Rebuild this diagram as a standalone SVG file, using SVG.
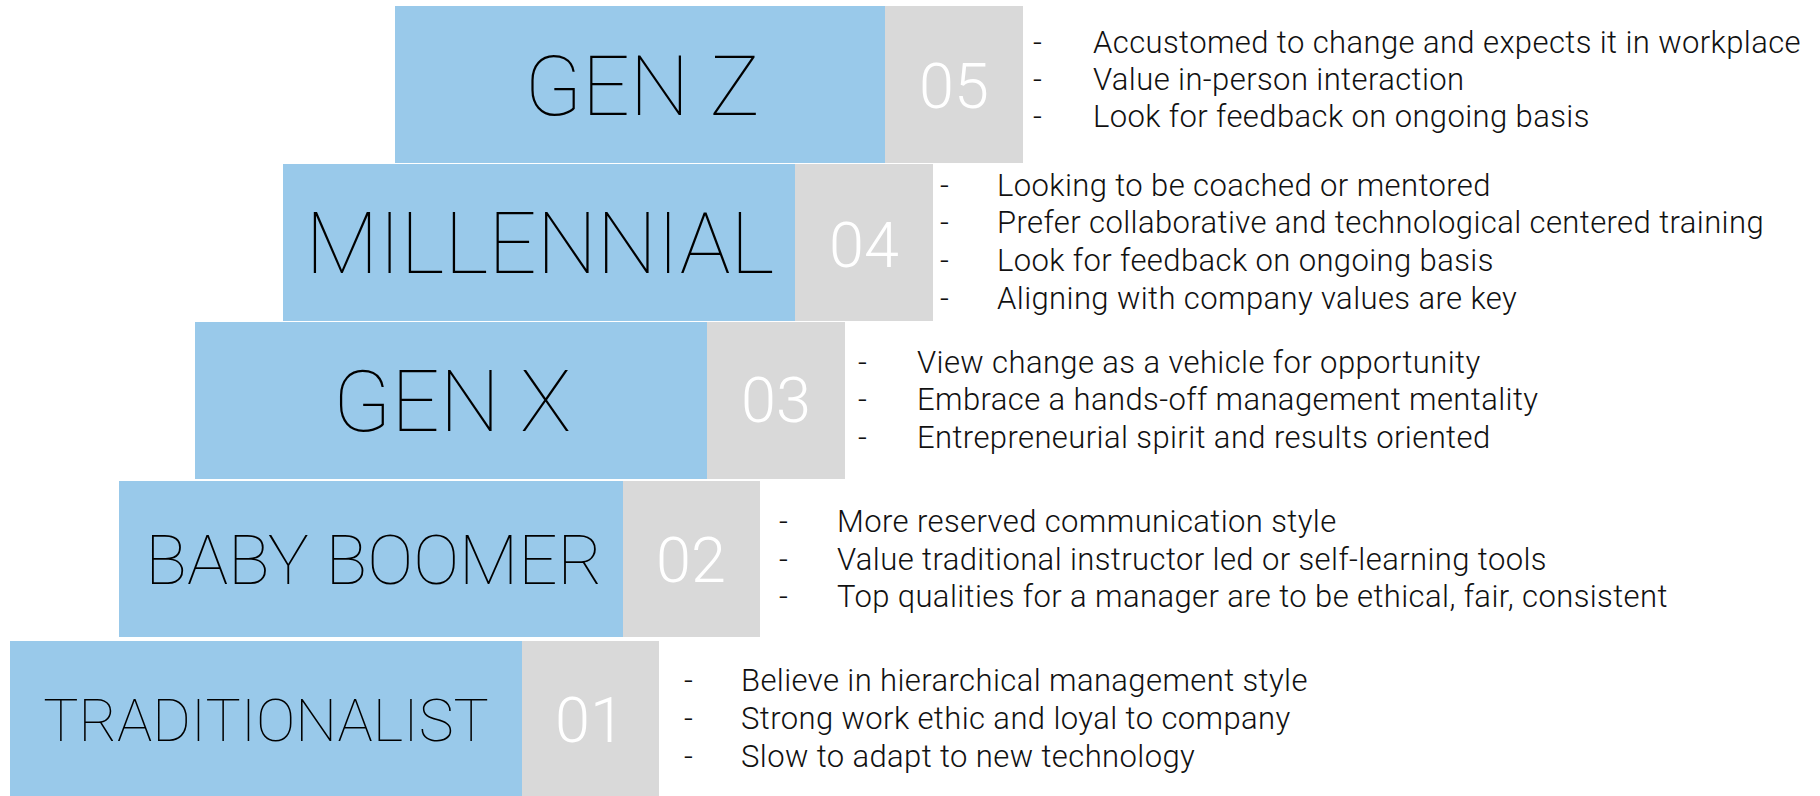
<svg xmlns="http://www.w3.org/2000/svg" width="1820" height="796" viewBox="0 0 1820 796">
  <style>
    .band { fill: #99c9ea; }
    .num-box { fill: #d9d9d9; }
    .label { font-family: Roboto, "Liberation Sans", sans-serif; font-weight: 100; fill: #000; text-anchor: middle; }
    .num { font-family: Roboto, "Liberation Sans", sans-serif; font-weight: 300; fill: #fff; font-size: 63px; text-anchor: middle; }
    .item { font-family: Roboto, "Liberation Sans", sans-serif; font-weight: 300; fill: #111; font-size: 31px; letter-spacing: 0.4px; }
  </style>
  <rect width="1820" height="796" fill="#fff"/>

  <!-- Generation 05 -->
  <g id="gen-z">
    <rect class="band" x="395" y="6" width="490" height="157"/>
    <rect class="num-box" x="885" y="6" width="138" height="157"/>
    <text class="label" x="642" y="115" font-size="84">GEN Z</text>
    <text class="num" x="954" y="108">05</text>
    <text class="item" y="53"><tspan x="1033">-</tspan><tspan x="1093">Accustomed to change and expects it in workplace</tspan></text>
    <text class="item" y="90"><tspan x="1033">-</tspan><tspan x="1093">Value in-person interaction</tspan></text>
    <text class="item" y="127"><tspan x="1033">-</tspan><tspan x="1093">Look for feedback on ongoing basis</tspan></text>
  </g>

  <!-- Generation 04 -->
  <g id="millennial">
    <rect class="band" x="283" y="164" width="512" height="157"/>
    <rect class="num-box" x="795" y="164" width="138" height="157"/>
    <text class="label" x="540" y="273" font-size="85">MILLENNIAL</text>
    <text class="num" x="864" y="267">04</text>
    <text class="item" y="196"><tspan x="940">-</tspan><tspan x="997">Looking to be coached or mentored</tspan></text>
    <text class="item" y="233"><tspan x="940">-</tspan><tspan x="997">Prefer collaborative and technological centered training</tspan></text>
    <text class="item" y="271"><tspan x="940">-</tspan><tspan x="997">Look for feedback on ongoing basis</tspan></text>
    <text class="item" y="309"><tspan x="940">-</tspan><tspan x="997">Aligning with company values are key</tspan></text>
  </g>

  <!-- Generation 03 -->
  <g id="gen-x">
    <rect class="band" x="195" y="322" width="512" height="157"/>
    <rect class="num-box" x="707" y="322" width="138" height="157"/>
    <text class="label" x="452" y="431" font-size="85">GEN X</text>
    <text class="num" x="776" y="422">03</text>
    <text class="item" y="373"><tspan x="858">-</tspan><tspan x="917">View change as a vehicle for opportunity</tspan></text>
    <text class="item" y="410"><tspan x="858">-</tspan><tspan x="917">Embrace a hands-off management mentality</tspan></text>
    <text class="item" y="448"><tspan x="858">-</tspan><tspan x="917">Entrepreneurial spirit and results oriented</tspan></text>
  </g>

  <!-- Generation 02 -->
  <g id="baby-boomer">
    <rect class="band" x="119" y="481" width="504" height="156"/>
    <rect class="num-box" x="623" y="481" width="137" height="156"/>
    <text class="label" x="374" y="584" font-size="69">BABY BOOMER</text>
    <text class="num" x="691" y="582">02</text>
    <text class="item" y="532"><tspan x="779">-</tspan><tspan x="837">More reserved communication style</tspan></text>
    <text class="item" y="570"><tspan x="779">-</tspan><tspan x="837">Value traditional instructor led or self-learning tools</tspan></text>
    <text class="item" y="607"><tspan x="779">-</tspan><tspan x="837">Top qualities for a manager are to be ethical, fair, consistent</tspan></text>
  </g>

  <!-- Generation 01 -->
  <g id="traditionalist">
    <rect class="band" x="10" y="641" width="512" height="155"/>
    <rect class="num-box" x="522" y="641" width="137" height="155"/>
    <text class="label" x="266" y="741" font-size="59">TRADITIONALIST</text>
    <text class="num" x="590" y="742">01</text>
    <text class="item" y="691"><tspan x="684">-</tspan><tspan x="741">Believe in hierarchical management style</tspan></text>
    <text class="item" y="729"><tspan x="684">-</tspan><tspan x="741">Strong work ethic and loyal to company</tspan></text>
    <text class="item" y="767"><tspan x="684">-</tspan><tspan x="741">Slow to adapt to new technology</tspan></text>
  </g>

  <g id="connectors"/>
</svg>
